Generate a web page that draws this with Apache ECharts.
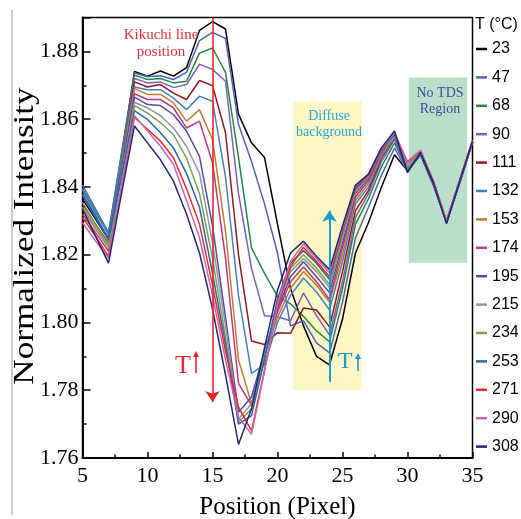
<!DOCTYPE html>
<html>
<head>
<meta charset="utf-8">
<script src="https://cdn.jsdelivr.net/npm/echarts@6/dist/echarts.min.js"></script>
<style>
html,body{margin:0;padding:0;background:#fff;}
#chart{width:521px;height:519px;}
</style>
</head>
<body>
<div id="chart"></div>
<script>
// Pixel positions (x axis)
const positions = [5,6,7,8,9,10,11,12,13,14,15,16,17,18,19,20,21,22,23,24,25,26,27,28,29,30,31,32,33,34,35];
// Temperatures (legend labels, °C)
const temps = ['23','47','68','90','111','132','153','174','195','215','234','253','271','290','308'];
const colors = ['#000000','#4e63b8','#1f8a45','#7f60b6','#8b1a1f','#3f80c6','#bf7f2a','#c8357f','#4a4db0','#959595','#6fa45a','#2f62a6','#ee2a2a','#c866b6','#23286e'];

// Normalized intensity for each temperature, x = 5..35
const t23  = [1.8365,1.8305,1.8245,1.849,1.8741,1.8727,1.8742,1.8727,1.8752,1.8862,1.8888,1.8866,1.8615,1.853,1.8487,1.829,1.810,1.799,1.790,1.7875,1.801,1.8205,1.8295,1.840,1.8495,1.8448,1.8495,1.8405,1.8295,1.841,1.853];
const t47  = [1.8405,1.8335,1.8265,1.850,1.8736,1.8725,1.8728,1.8717,1.8738,1.8832,1.8856,1.8838,1.8585,1.8475,1.835,1.8205,1.799,1.8005,1.794,1.791,1.806,1.825,1.834,1.8435,1.8515,1.8445,1.8497,1.8408,1.8298,1.8412,1.8532];
const t68  = [1.839,1.8325,1.826,1.8495,1.873,1.8717,1.872,1.8707,1.8712,1.8795,1.881,1.8738,1.8487,1.822,1.8145,1.8077,1.8055,1.8018,1.7975,1.7943,1.810,1.829,1.8365,1.846,1.853,1.845,1.8502,1.841,1.8297,1.8415,1.8535];
const t90  = [1.8375,1.831,1.825,1.8485,1.872,1.8707,1.871,1.8693,1.8702,1.8762,1.8747,1.8712,1.838,1.816,1.802,1.8017,1.8005,1.8087,1.802,1.7963,1.812,1.831,1.838,1.8475,1.854,1.8445,1.8505,1.8412,1.8296,1.8414,1.8534];
const t111 = [1.835,1.829,1.8235,1.847,1.871,1.8695,1.8702,1.8677,1.8658,1.8714,1.8699,1.856,1.820,1.7945,1.7935,1.797,1.7968,1.8043,1.8037,1.7987,1.815,1.833,1.839,1.8485,1.8545,1.846,1.8503,1.8414,1.8299,1.8416,1.8533];
const t132 = [1.8395,1.833,1.826,1.8478,1.8695,1.8687,1.8687,1.8662,1.8628,1.8668,1.8653,1.843,1.808,1.785,1.7875,1.800,1.808,1.8131,1.809,1.8037,1.818,1.835,1.840,1.849,1.8545,1.8452,1.8506,1.8411,1.8293,1.8413,1.8531];
const t153 = [1.834,1.828,1.8225,1.846,1.869,1.8673,1.8673,1.8648,1.8594,1.8628,1.854,1.827,1.789,1.776,1.7905,1.8015,1.810,1.815,1.811,1.806,1.820,1.836,1.841,1.8495,1.855,1.846,1.8504,1.8413,1.8298,1.8417,1.8536];
const t174 = [1.832,1.8265,1.821,1.844,1.8675,1.8658,1.8658,1.8633,1.8574,1.8594,1.8472,1.819,1.782,1.7755,1.7905,1.803,1.812,1.8164,1.812,1.8067,1.822,1.837,1.8418,1.850,1.8555,1.8475,1.8508,1.8415,1.8301,1.8418,1.8538];
const t195 = [1.8375,1.831,1.8245,1.8455,1.8665,1.8643,1.864,1.8613,1.8565,1.849,1.8285,1.8015,1.7735,1.778,1.7915,1.804,1.8135,1.8179,1.8135,1.8088,1.8235,1.838,1.8425,1.8505,1.8555,1.8445,1.8502,1.8412,1.8294,1.8414,1.8534];
const t215 = [1.8335,1.8275,1.822,1.8435,1.865,1.8633,1.861,1.8574,1.852,1.844,1.8235,1.799,1.7715,1.776,1.7905,1.805,1.815,1.8189,1.815,1.8103,1.825,1.8385,1.843,1.851,1.855,1.846,1.8504,1.8414,1.8297,1.8416,1.8535];
const t234 = [1.8355,1.829,1.823,1.8435,1.864,1.8618,1.859,1.8554,1.8485,1.838,1.819,1.7955,1.7705,1.7745,1.790,1.806,1.816,1.820,1.816,1.8112,1.826,1.839,1.8432,1.851,1.8555,1.8455,1.8503,1.8413,1.8296,1.8415,1.8534];
const t253 = [1.838,1.8315,1.8245,1.843,1.8625,1.8599,1.856,1.8515,1.844,1.834,1.8145,1.7935,1.770,1.7725,1.789,1.807,1.8175,1.8212,1.8175,1.8127,1.827,1.8395,1.8435,1.8512,1.8555,1.8448,1.8501,1.8411,1.8292,1.8413,1.8533];
const t271 = [1.831,1.8255,1.8195,1.840,1.8605,1.857,1.8535,1.8486,1.8395,1.829,1.811,1.7915,1.775,1.768,1.786,1.8045,1.8165,1.8222,1.818,1.8135,1.8275,1.840,1.8436,1.8513,1.856,1.847,1.8507,1.8415,1.8299,1.8417,1.8536];
const t290 = [1.8295,1.824,1.819,1.840,1.861,1.8565,1.852,1.8466,1.836,1.825,1.808,1.789,1.772,1.767,1.7855,1.8055,1.818,1.8232,1.8188,1.8147,1.828,1.8405,1.8438,1.8515,1.856,1.8472,1.8508,1.8416,1.830,1.8418,1.8537];
const t308 = [1.8335,1.8255,1.8175,1.838,1.858,1.853,1.848,1.8417,1.832,1.8205,1.804,1.7845,1.764,1.7745,1.7925,1.8095,1.8205,1.824,1.8195,1.8156,1.8285,1.8405,1.8438,1.8516,1.8565,1.8442,1.8502,1.8412,1.8293,1.8415,1.8535];

const seriesValues = [t23,t47,t68,t90,t111,t132,t153,t174,t195,t215,t234,t253,t271,t290,t308];

const serif = '"Liberation Serif","Times New Roman",serif';
const sans = '"Liberation Sans",Arial,sans-serif';

const chart = echarts.init(document.getElementById('chart'), null, {renderer:'canvas'});

const lineSeries = temps.map((t, i) => ({
  name: t,
  type: 'line',
  symbol: 'none',
  z: 3,
  color: colors[i],
  lineStyle: {width: 1.5, color: colors[i]},
  data: positions.map((x, k) => [x, seriesValues[i][k]])
}));

const helperSeries = [
  {
    name: 'diffuse', type: 'line', data: [], z: 1, silent: true,
    markArea: {silent: true, itemStyle: {color: '#fdf7c6'},
      data: [[{coord: [21.2, 1.8652]}, {coord: [26.5, 1.7801]}]]}
  },
  {
    name: 'notds', type: 'line', data: [], z: 6, silent: true,
    markArea: {silent: true, itemStyle: {color: 'rgba(80,175,118,0.4)'},
      data: [[{coord: [30.1, 1.8723]}, {coord: [34.6, 1.8176]}]]}
  },
  {
    name: 'arrows', type: 'line', data: [], z: 7, silent: true,
    markLine: {
      silent: true, symbol: ['none', 'arrow'], symbolSize: 11,
      label: {show: false},
      data: [
        [{coord: [15, 1.89], lineStyle: {color: '#e8262b', width: 1.6, type: 'solid'}, itemStyle: {color: '#e8262b'}},
         {coord: [15, 1.7765]}],
        [{coord: [24, 1.7825], lineStyle: {color: '#1a9ad9', width: 2, type: 'solid'}, itemStyle: {color: '#1a9ad9'}},
         {coord: [24, 1.833]}]
      ]
    }
  }
];

function smallArrow(id, x, yBottom, yTop, color) {
  return [
    {type: 'line', id: id + 'L', z: 30, shape: {x1: x, y1: yBottom, x2: x, y2: yTop + 2}, style: {stroke: color, lineWidth: 1.6}},
    {type: 'polygon', id: id + 'H', z: 30, shape: {points: [[x - 3, yTop + 6], [x + 3, yTop + 6], [x, yTop]]}, style: {fill: color}}
  ];
}

const option = {
  animation: false,
  backgroundColor: '#fff',
  grid: {left: 82.5, right: 48.5, top: 17.5, bottom: 61, containLabel: false, outerBoundsMode: 'none',
    show: true, borderColor: '#000', borderWidth: 1.5, backgroundColor: 'transparent'},
  xAxis: {
    type: 'value', min: 5, max: 35, interval: 5,
    axisLine: {show: true, lineStyle: {color: '#000', width: 2}},
    axisTick: {show: true, inside: true, length: 6, lineStyle: {color: '#000', width: 1.5}},
    minorTick: {show: true, splitNumber: 2, length: 3.5, lineStyle: {color: '#000', width: 1.5}},
    splitLine: {show: false},
    axisLabel: {fontFamily: serif, fontSize: 22, color: '#000', margin: 7},
    name: 'Position (Pixel)', nameLocation: 'middle', nameGap: 37,
    nameTextStyle: {fontFamily: serif, fontSize: 25, color: '#000'}
  },
  yAxis: {
    type: 'value', min: 1.76, max: 1.89, interval: 0.02,
    axisLine: {show: true, lineStyle: {color: '#000', width: 2}},
    axisTick: {show: true, inside: true, length: 8, lineStyle: {color: '#000', width: 1.5}},
    minorTick: {show: true, splitNumber: 2, length: 4, lineStyle: {color: '#000', width: 1.5}},
    splitLine: {show: false},
    axisLabel: {fontFamily: serif, fontSize: 22, color: '#000', margin: 4, showMaxLabel: false,
      formatter: v => v.toFixed(2)}
  },
  legend: {
    data: temps, orient: 'vertical', left: 476, top: 41, padding: 0,
    icon: 'rect', itemWidth: 11, itemHeight: 2.5, itemGap: 12.4,
    selectedMode: false,
    textStyle: {fontFamily: sans, fontSize: 16, color: '#000'}
  },
  graphic: [
    {type: 'line', id: 'frameLeft', shape: {x1: 12, y1: 10, x2: 12, y2: 515}, style: {stroke: '#9a9a9a', lineWidth: 1}},
    {type: 'text', id: 'yTitle', x: 25, y: 236, rotation: Math.PI / 2, scaleX: 1.17, z: 30,
      style: {text: 'Normalized Intensity', font: '30px ' + serif, fill: '#000', textAlign: 'center', textVerticalAlign: 'middle'}},
    {type: 'text', id: 'legTitle', left: 475, top: 17, style: {text: 'T (°C)', font: '16px ' + sans, fill: '#000'}},
    {type: 'text', id: 'kik', x: 161, y: 44, z: 30, style: {text: 'Kikuchi line\nposition', font: '15px ' + serif, fill: '#e0303a', textAlign: 'center', textVerticalAlign: 'middle', lineHeight: 17}},
    {type: 'text', id: 'dif', x: 329, y: 124, z: 30, style: {text: 'Diffuse\nbackground', font: '14px ' + serif, fill: '#2aa6d8', textAlign: 'center', textVerticalAlign: 'middle', lineHeight: 16}},
    {type: 'text', id: 'tds', x: 440, y: 101, z: 30, style: {text: 'No TDS\nRegion', font: '14px ' + serif, fill: '#3c4a9a', textAlign: 'center', textVerticalAlign: 'middle', lineHeight: 16}},
    {type: 'text', id: 'tRed', x: 183, y: 366, z: 30, style: {text: 'T', font: '26px ' + serif, fill: '#e8262b', textAlign: 'center', textVerticalAlign: 'middle'}},
    {type: 'text', id: 'tBlue', x: 345, y: 362, z: 30, style: {text: 'T', font: '24px ' + serif, fill: '#1a9ad9', textAlign: 'center', textVerticalAlign: 'middle'}}
  ].concat(smallArrow('aRed', 196, 373, 351, '#e8262b'), smallArrow('aBlue', 358, 371, 353, '#1a9ad9')),
  series: helperSeries.concat(lineSeries)
};

chart.setOption(option);
</script>
</body>
</html>
